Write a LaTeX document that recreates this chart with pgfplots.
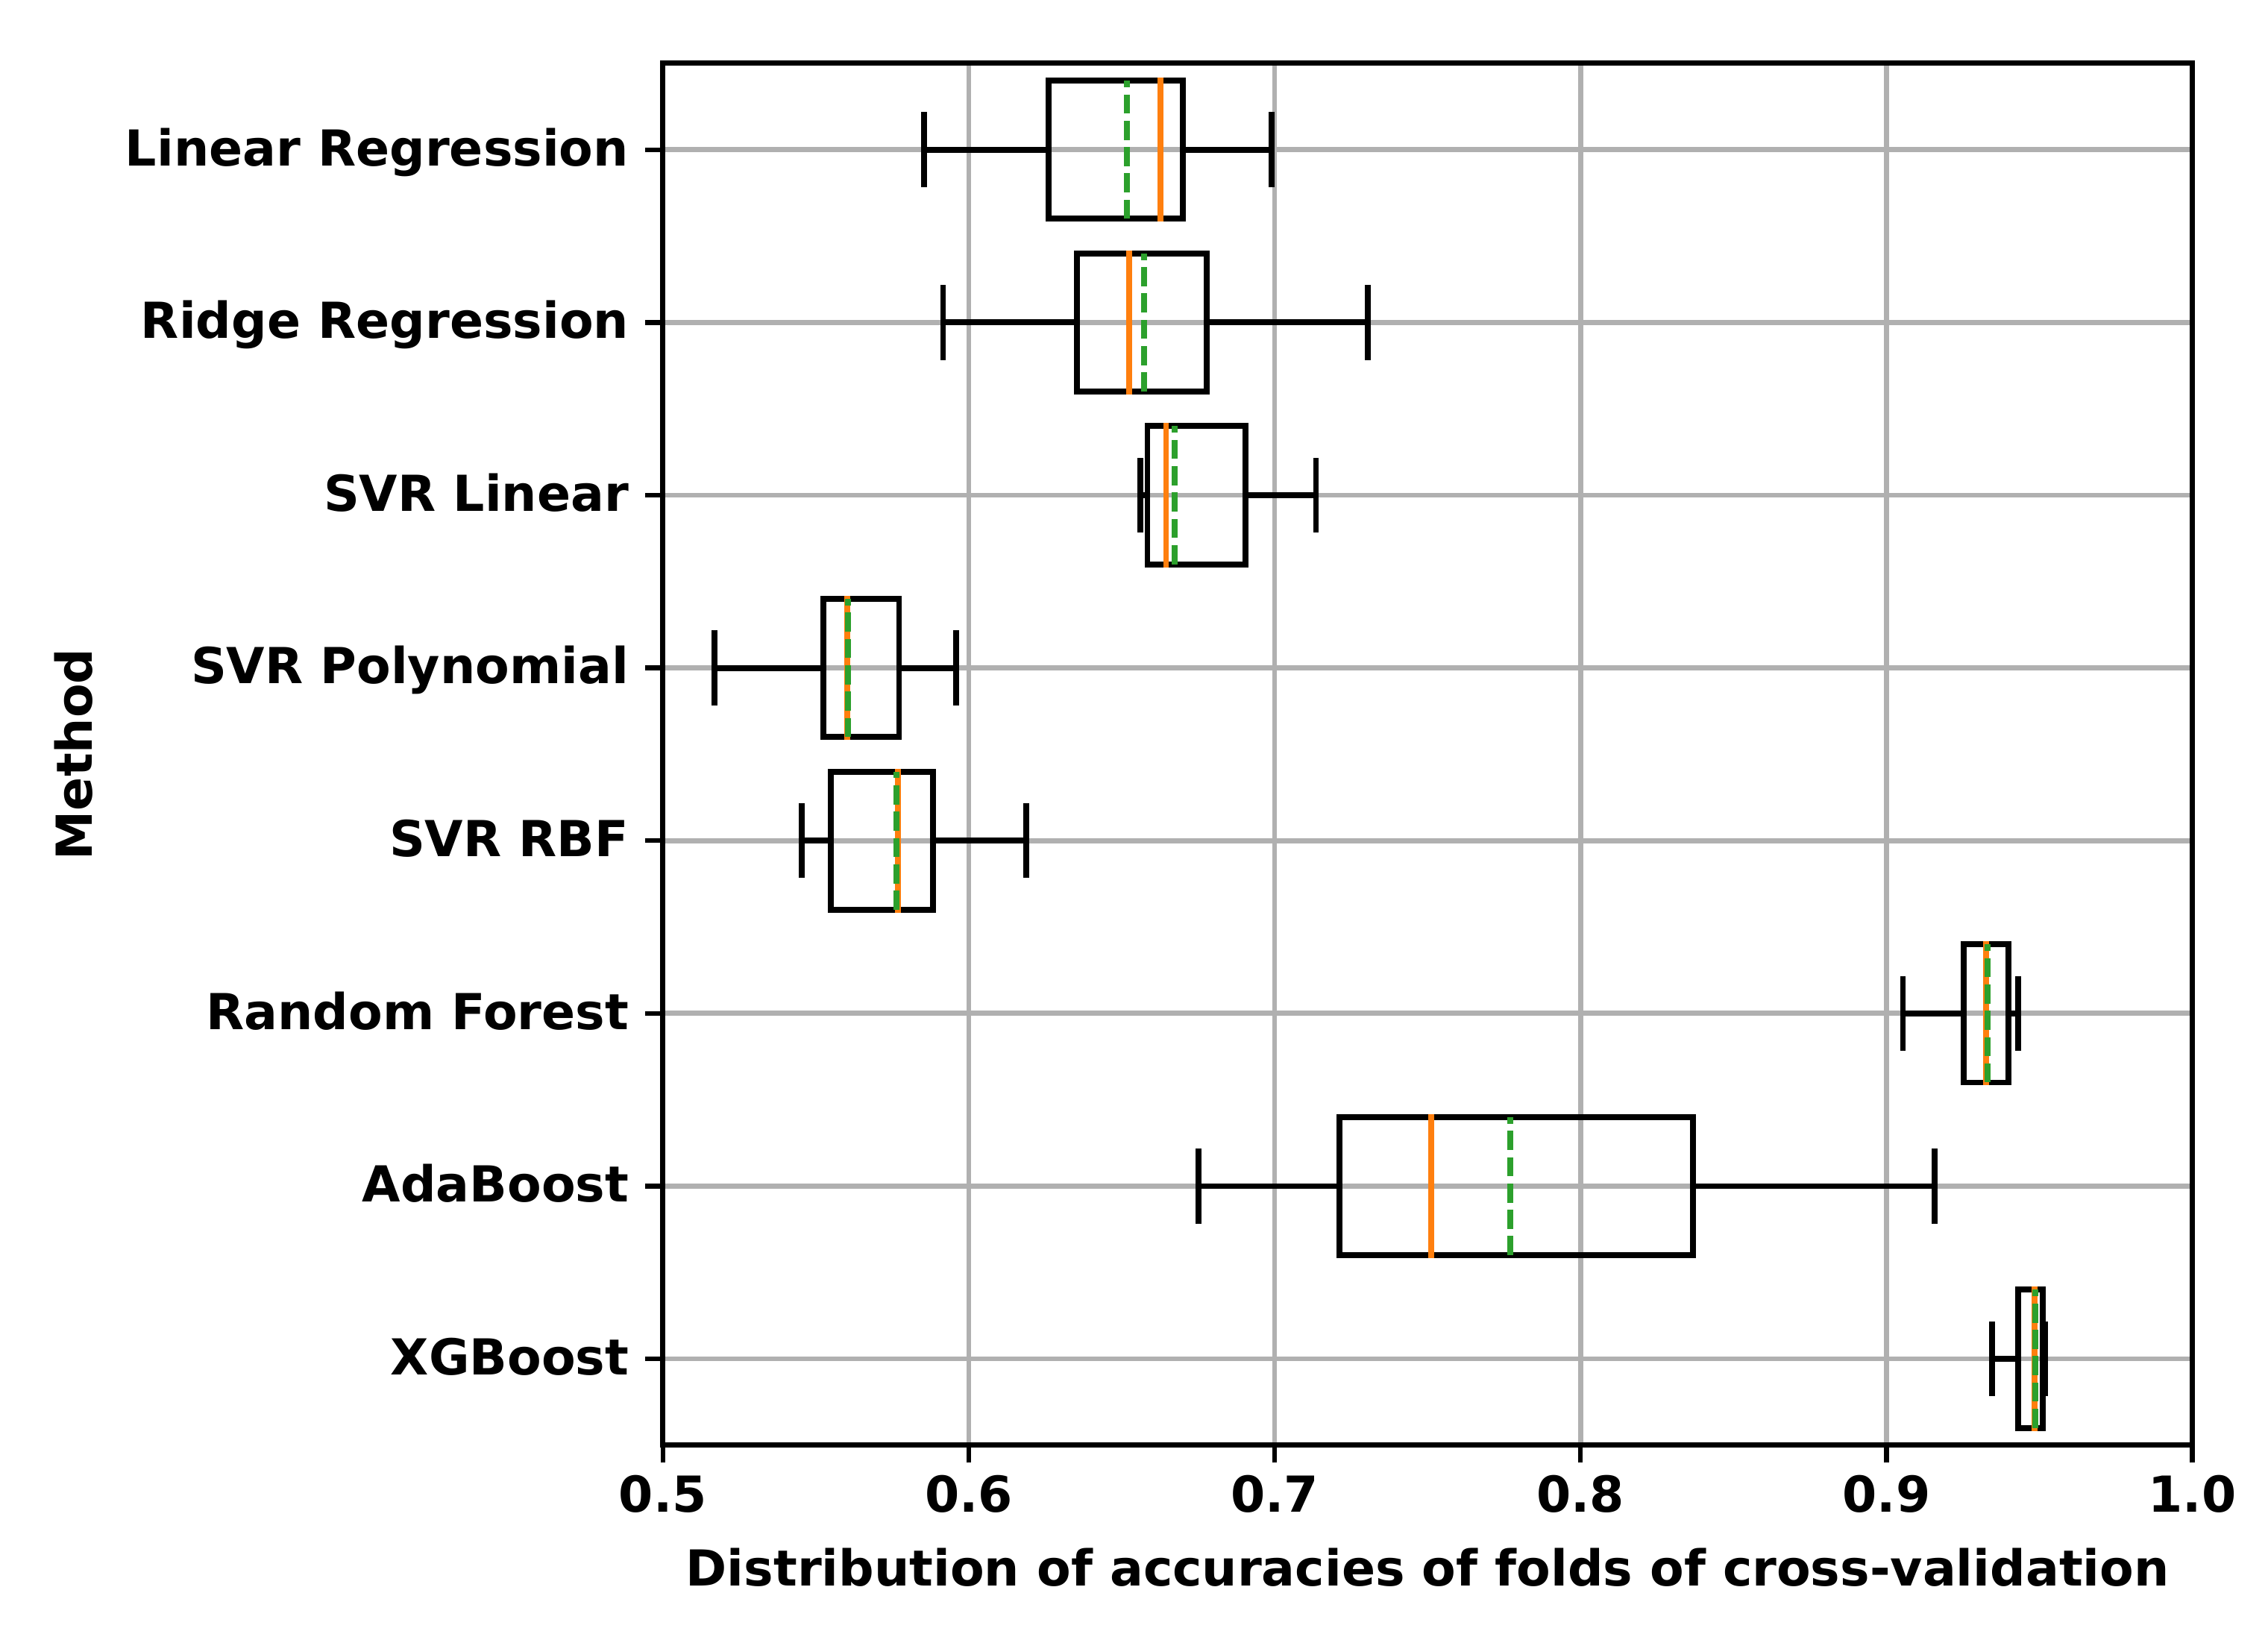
\documentclass[border=0pt]{standalone}
\usepackage{fontspec}
\setmainfont{DejaVu Sans}
\usepackage{pgfplots}
\pgfplotsset{compat=1.18}
\usepgfplotslibrary{statistics}
\definecolor{mplorange}{HTML}{FF7F0E}
\definecolor{mplgreen}{HTML}{2CA02C}
\definecolor{gridgray}{HTML}{B0B0B0}
\newcommand{\lblfont}{\fontsize{11.4}{13}\selectfont\bfseries}
\begin{document}
\begin{tikzpicture}
\begin{axis}[
  name=ax,
  scale only axis,
  width=351.6pt, height=317.7pt,
  xmin=0.5, xmax=1.0,
  ymin=0.5, ymax=8.5,
  y dir=reverse,
  xtick={0.5,0.6,0.7,0.8,0.9,1.0},
  xticklabels={0.5,0.6,0.7,0.8,0.9,1.0},
  ytick={1,2,3,4,5,6,7,8},
  yticklabels={Linear Regression,Ridge Regression,SVR Linear,SVR Polynomial,SVR RBF,Random Forest,AdaBoost,XGBoost},
  xtick pos=lower, ytick pos=left,
  tick align=outside,
  major tick length=4.05pt,
  every tick/.style={black, line width=1.1pt},
  axis line style={black, line width=1.2pt},
  xmajorgrids, ymajorgrids,
  major grid style={draw=gridgray, line width=1.15pt},
  xticklabel style={font=\lblfont, anchor=base, inner sep=0pt, yshift=-11.3pt},
  yticklabel style={font=\lblfont, anchor=base east, inner sep=0pt, xshift=-3.6pt, yshift=-0.3645em},
  xlabel={Distribution of accuracies of folds of cross-validation},
  ylabel={Method},
  xlabel style={font=\lblfont, at={(axis description cs:0.5,-0.1017)}, anchor=base, inner sep=0pt},
  ylabel style={font=\lblfont, at={(axis description cs:-0.3851,0.5)}, anchor=center, inner sep=0pt},
  boxplot/draw direction=x,
  boxplot/box extend=0.8,
  boxplot/whisker extend=0.4,
  boxplot/every box/.style={line join=miter},
  boxplot/every whisker/.style={line cap=rect},
  boxplot/every median/.style={draw=mplorange, line width=1.35pt, line cap=rect},
  boxplot/every average/.style={draw=mplgreen, line width=1.35pt, dash pattern=on 4.4pt off 1.65pt, line cap=butt},
  boxplot/draw/average/.code={%
    \draw[/pgfplots/boxplot/every average/.try]
      (boxplot box cs:\pgfplotsboxplotvalue{average},1) --
      (boxplot box cs:\pgfplotsboxplotvalue{average},0);
  },
  mybox/.style={draw=black, solid, line width=1.35pt, mark=none},
]
\addplot[mybox, boxplot prepared={draw position=1, lower whisker=0.5853, lower quartile=0.6262, median=0.6627, upper quartile=0.6699, upper whisker=0.6990, average=0.6517}] coordinates {};
\addplot[mybox, boxplot prepared={draw position=2, lower whisker=0.5916, lower quartile=0.6353, median=0.6524, upper quartile=0.6778, upper whisker=0.7305, average=0.6574}] coordinates {};
\addplot[mybox, boxplot prepared={draw position=3, lower whisker=0.6561, lower quartile=0.6584, median=0.6645, upper quartile=0.6904, upper whisker=0.7135, average=0.6673}] coordinates {};
\addplot[mybox, boxplot prepared={draw position=4, lower whisker=0.5168, lower quartile=0.5524, median=0.5602, upper quartile=0.5772, upper whisker=0.5958, average=0.5606}] coordinates {};
\addplot[mybox, boxplot prepared={draw position=5, lower whisker=0.5453, lower quartile=0.5550, median=0.5769, upper quartile=0.5882, upper whisker=0.6188, average=0.5764}] coordinates {};
\addplot[mybox, boxplot prepared={draw position=6, lower whisker=0.9054, lower quartile=0.9252, median=0.9325, upper quartile=0.9399, upper whisker=0.9430, average=0.9330}] coordinates {};
\addplot[mybox, boxplot prepared={draw position=7, lower whisker=0.6750, lower quartile=0.7211, median=0.7512, upper quartile=0.8368, upper whisker=0.9158, average=0.7771}] coordinates {};
\addplot[mybox, boxplot prepared={draw position=8, lower whisker=0.9345, lower quartile=0.9430, median=0.9484, upper quartile=0.9511, upper whisker=0.9518, average=0.9486}] coordinates {};
\end{axis}
\pgfresetboundingbox
\path (ax.south west) ++(-152.4pt,-43.36pt) rectangle ++(521.4pt,375.61pt);
\end{tikzpicture}
\end{document}
